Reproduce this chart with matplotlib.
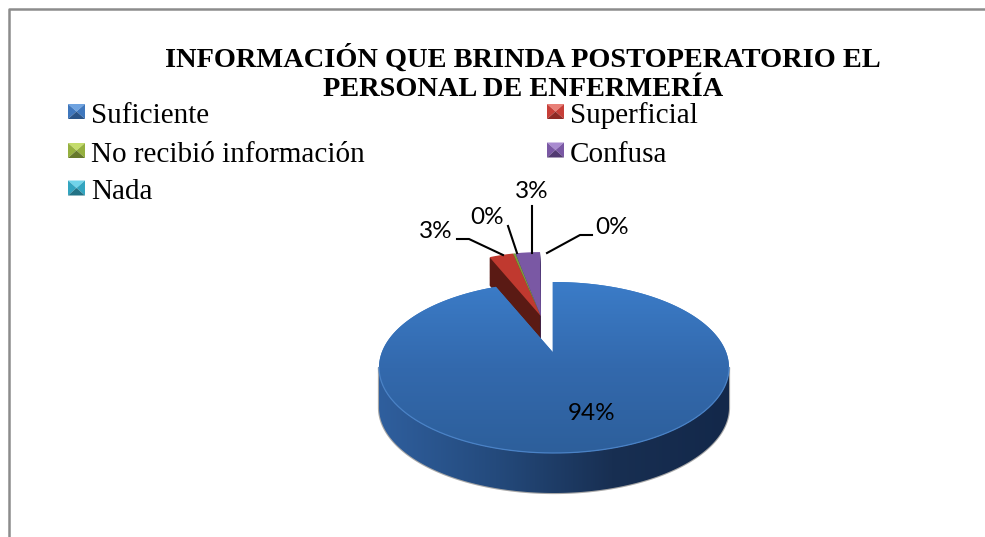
import numpy as np
from matplotlib import pyplot as plt
from matplotlib.colors import LinearSegmentedColormap
from matplotlib.patches import Polygon

categorias = ['Suficiente', 'Superficial', 'No recibió información', 'Confusa', 'Nada']
valores = [93.6, 3.0, 0.3, 3.0, 0.1]
titulo = 'INFORMACIÓN QUE BRINDA POSTOPERATORIO EL\nPERSONAL DE ENFERMERÍA'

colores_cara = ['#3a78c2', '#c0392f', '#7f9a3a', '#7a58a4', '#2f9db8']
colores_lado = ['#1f3d66', '#5a1a14', '#3d4f1c', '#3f2c66', '#1a5566']

# colores del marcador de leyenda: claro, medio, oscuro
marcadores = [('#6fa3e0', '#3f77bd', '#2a5488'),
              ('#e88078', '#c73f38', '#8e2a25'),
              ('#c4dc6c', '#95b03f', '#66792b'),
              ('#a98bd0', '#7a58a4', '#523a72'),
              ('#70d4ea', '#33a5c0', '#227285')]

W, H = 985, 537
fig = plt.figure(figsize=(W / 100, H / 100), dpi=100)

# eje de toda la figura en pixeles
bg = fig.add_axes([0, 0, 1, 1])
bg.set_xlim(0, W)
bg.set_ylim(H, 0)
bg.axis('off')

# marco
bg.plot([8.7, 8.7, W], [H, 8.7, 8.7], color='#8c8c8c', lw=1.8, solid_capstyle='butt')
bg.text(523, 73, titulo, ha='center', va='center', family='Liberation Serif',
        weight='bold', fontsize=20.4, linespacing=1.24, color='black', zorder=6)

# leyenda: x del marcador, y del marcador, base del texto
leyenda_pos = [(68, 111.5, 123), (547, 111.5, 123), (68, 150.5, 161.7), (547, 150, 161.7), (68, 188, 199)]
for nombre, (mx, my, base), (cl, cm, co) in zip(categorias, leyenda_pos, marcadores):
    x0, x1, y0, y1 = mx, mx + 17, my - 7.5, my + 7.5
    cx, cy = (x0 + x1) / 2, (y0 + y1) / 2
    bg.add_patch(Polygon([(x0, y0), (x1, y0), (cx, cy)], fc=cl, ec='none'))
    bg.add_patch(Polygon([(x0, y0), (x0, y1), (cx, cy)], fc=cm, ec='none'))
    bg.add_patch(Polygon([(x1, y0), (x1, y1), (cx, cy)], fc=cm, ec='none'))
    bg.add_patch(Polygon([(x0, y1), (x1, y1), (cx, cy)], fc=co, ec='none'))
    bg.text(x1 + 6, base, nombre, ha='left', va='baseline', family='Liberation Serif',
            fontsize=21, color='black', zorder=6)

# eje de la torta: 1 unidad = 175 px en x, 85.5 px en y
cx_px, cy_px, rx_px, ry_px = 554, 367.5, 175, 85.5
prof = 40 / ry_px
ax = fig.add_axes([(cx_px - rx_px) / W, 1 - (cy_px + ry_px + 40) / H,
                   2 * rx_px / W, (2 * ry_px + 40) / H])


def torta(radio, centro, colores, visibles, z):
    wedges, _ = ax.pie(valores, colors=colores, startangle=90, counterclock=False,
                       radius=radio, center=centro, wedgeprops={'linewidth': 0})
    for w, v in zip(wedges, visibles):
        w.set_visible(v)
        w.set_zorder(z)
        w.set_clip_on(False)
    return wedges


# porciones chicas separadas, con su pared
chicas = [False, True, True, True, False]
centro_chicas = (-0.075, 0.60)
for d in np.linspace(0.33, 0.01, 60):
    torta(0.75, (centro_chicas[0], centro_chicas[1] - d), colores_lado, chicas, 2)
torta(0.75, centro_chicas, colores_cara, chicas, 3)

# porcion grande: pared con degrade
ang = np.radians(np.linspace(180, 360, 200))
xs, ys = np.cos(ang), np.sin(ang)
lado = Polygon(np.column_stack([np.r_[xs, xs[::-1]], np.r_[ys, ys[::-1] - prof]]),
               fc='#1f3d66', ec='#a8a8a8', lw=1.6, zorder=4, clip_on=False)
ax.add_patch(lado)
cmap_lado = LinearSegmentedColormap.from_list('lado', ['#2f5f9e', '#244a7c', '#182f52', '#13284a'])
img = ax.imshow(np.linspace(0, 1, 256).reshape(1, -1), extent=(-1, 1, -1 - prof, 0.2),
                aspect='auto', cmap=cmap_lado, zorder=4.1)
img.set_clip_path(lado)

# cara superior: la punta queda arriba del centro de la elipse
punta = (-0.007, 0.18)
cuña = torta(1.0, (0, 0), colores_cara, [False] * 5, 5)[0]
t = np.radians(np.linspace(cuña.theta1, cuña.theta2, 400))
dx, dy = np.cos(t), np.sin(t)
b = punta[0] * dx + punta[1] * dy
s = -b + np.sqrt(b ** 2 - (punta[0] ** 2 + punta[1] ** 2 - 1))
borde = np.column_stack([punta[0] + s * dx, punta[1] + s * dy])
cara = Polygon(np.vstack([punta, borde]), fc='#3a78c2', ec='none', zorder=5, clip_on=False)
ax.add_patch(cara)
cmap_cara = LinearSegmentedColormap.from_list('cara', ['#3b7cc8', '#3369ad', '#2d5f9b'])
img2 = ax.imshow(np.linspace(0, 1, 256).reshape(-1, 1), extent=(-1, 1, -1, 1), aspect='auto',
                 cmap=cmap_cara, zorder=5.1)
img2.set_clip_path(cara)
ax.plot(xs, ys, color='#4a82c6', lw=0.9, zorder=5.2, clip_on=False)
ax.set_aspect('auto')
ax.set_xlim(-1, 1)
ax.set_ylim(-1 - prof, 1)
ax.axis('off')

# etiquetas y lineas guia
etiquetas_pos = [(592, 414), (436, 232), (487, 218), (532, 192), (612, 227)]
guias = [None,
         [(457, 239), (469, 239), (503, 255)],
         [(508, 226), (517, 253)],
         [(532, 206), (532, 253)],
         [(592, 235), (580, 235), (547, 253)]]

top = fig.add_axes([0, 0, 1, 1], zorder=10)
top.set_xlim(0, W)
top.set_ylim(H, 0)
top.axis('off')
for v, (tx, ty), g in zip(valores, etiquetas_pos, guias):
    top.text(tx, ty, f'{v:.0f}%', ha='center', va='center', family='Lato', fontsize=17.5, color='black')
    if g:
        top.plot([p[0] for p in g], [p[1] for p in g], color='black', lw=1.5)

fig.savefig('out.png', dpi=100, facecolor='white')
